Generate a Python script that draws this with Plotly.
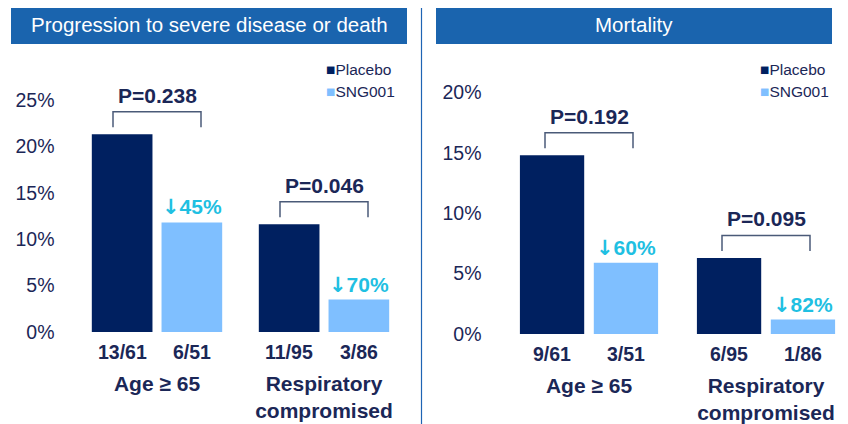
import plotly.graph_objects as go

# ---------------- data ----------------
groups = ["Age ≥ 65", "Respiratory<br>compromised"]
series_names = ["Placebo", "SNG001"]

prog_placebo = [21.3, 11.6]
prog_sng = [11.8, 3.5]
prog_placebo_n = ["13/61", "11/95"]
prog_sng_n = ["6/51", "3/86"]
prog_p = ["P=0.238", "P=0.046"]
prog_red = ["45%", "70%"]

mort_placebo = [14.8, 6.3]
mort_sng = [5.9, 1.2]
mort_placebo_n = ["9/61", "6/95"]
mort_sng_n = ["3/51", "1/86"]
mort_p = ["P=0.192", "P=0.095"]
mort_red = ["60%", "82%"]

prog_ticks = [0, 5, 10, 15, 20, 25]
mort_ticks = [0, 5, 10, 15, 20]

titles = ["Progression to severe disease or death", "Mortality"]

# ---------------- style ----------------
OFF = 8                      # page body margin
W, H = 848 - OFF, 424 - OFF
NAVY = "#002060"
LIGHT = "#7FBFFF"
CYAN = "#1FC0E2"
TEXT = "#1B2757"
HEADER = "#1A64AE"
BRACKET = "#4A5A78"
FONT = "Liberation Sans, Arial, sans-serif"
BARGAP = 0.165
GROUPGAP = 0.13


def px(sx):
    return (sx - OFF) / W


def py(sy):
    return (H - (sy - OFF)) / H


fig = go.Figure()

panels = [
    dict(xa="x", ya="y", xdom=(73.5, 407.5), xr=[-0.5, 1.5], y0px=332, ytop=29.31,
         pl=prog_placebo, sg=prog_sng, pln=prog_placebo_n, sgn=prog_sng_n,
         p=prog_p, red=prog_red, ticks=prog_ticks,
         hdr=(11, 407), title=titles[0], leg=324),
    dict(xa="x2", ya="y2", xdom=(500.5, 836.8), xr=[-0.5, 1.4], y0px=334, ytop=22.70,
         pl=mort_placebo, sg=mort_sng, pln=mort_placebo_n, sgn=mort_sng_n,
         p=mort_p, red=mort_red, ticks=mort_ticks,
         hdr=(436, 832), title=titles[1], leg=758),
]

shapes = []
annotations = []
top_px = 60

for k, P in enumerate(panels):
    suffix = "" if k == 0 else str(k + 1)
    fig.add_trace(go.Bar(x=groups, y=P["pl"], name=series_names[0], marker_color=NAVY,
                         marker_line_width=0, xaxis=P["xa"], yaxis=P["ya"],
                         offsetgroup="a", showlegend=False))
    fig.add_trace(go.Bar(x=groups, y=P["sg"], name=series_names[1], marker_color=LIGHT,
                         marker_line_width=0, xaxis=P["xa"], yaxis=P["ya"],
                         offsetgroup="b", showlegend=False))

    xd = [px(P["xdom"][0]), px(P["xdom"][1])]
    yd = [py(P["y0px"]), py(top_px)]
    fig.update_layout(**{
        "xaxis" + suffix: dict(domain=xd, range=P["xr"], type="category", automargin=False,
                               anchor=P["ya"], showgrid=False, zeroline=False, showline=False,
                               ticks="", tickmode="array", tickvals=groups,
                               ticktext=["<b>" + g + "</b>" for g in groups],
                               tickfont=dict(family=FONT, size=21, color=TEXT),
                               ticklabelstandoff=37),
        "yaxis" + suffix: dict(domain=yd, range=[0, P["ytop"]], anchor=P["xa"], automargin=False,
                               showgrid=False, zeroline=False, showline=False,
                               tickmode="array", tickvals=P["ticks"],
                               ticktext=[f"{v}%" for v in P["ticks"]],
                               tickfont=dict(family=FONT, size=19.5, color=TEXT),
                               ticklabelstandoff=18),
    })

    band_px = (P["xdom"][1] - P["xdom"][0]) / (P["xr"][1] - P["xr"][0])
    slot_px = band_px * (1 - BARGAP) / 2
    off = slot_px / 2

    for i in range(len(groups)):
        top = max(P["pl"][i], P["sg"][i])
        shapes.append(dict(type="path", xref=P["xa"], yref=P["ya"],
                           xsizemode="pixel", ysizemode="pixel",
                           xanchor=i, yanchor=top,
                           path="M -44,7 L -44,22.5 L 44,22.5 L 44,7",
                           line=dict(color=BRACKET, width=1.5)))
        annotations.append(dict(x=i, y=top, xref=P["xa"], yref=P["ya"],
                                text="<b>" + P["p"][i] + "</b>", showarrow=False,
                                yshift=39, yanchor="middle",
                                font=dict(family=FONT, size=21, color=TEXT)))
        annotations.append(dict(x=i, y=P["sg"][i], xref=P["xa"], yref=P["ya"],
                                text="<span style='font-family:DejaVu Sans'><b>↓</b></span><b>"
                                     + P["red"][i] + "</b>",
                                showarrow=False, xshift=off, yshift=15, yanchor="middle",
                                font=dict(family=FONT, size=21, color=CYAN)))
        annotations.append(dict(x=i, y=0, xref=P["xa"], yref=P["ya"],
                                text="<b>" + P["pln"][i] + "</b>", showarrow=False,
                                xshift=-off, yshift=-20, yanchor="middle",
                                font=dict(family=FONT, size=19.5, color=TEXT)))
        annotations.append(dict(x=i, y=0, xref=P["xa"], yref=P["ya"],
                                text="<b>" + P["sgn"][i] + "</b>", showarrow=False,
                                xshift=off, yshift=-20, yanchor="middle",
                                font=dict(family=FONT, size=19.5, color=TEXT)))

    # header
    x0, x1 = P["hdr"]
    shapes.append(dict(type="rect", xref="paper", yref="paper",
                       x0=px(x0), x1=px(x1), y0=py(44), y1=py(4),
                       fillcolor=HEADER, line_width=0, layer="below"))
    annotations.append(dict(x=px((x0 + x1) / 2), y=py(25), xref="paper", yref="paper",
                            text=P["title"], showarrow=False, xanchor="center", yanchor="middle",
                            font=dict(family=FONT, size=20.5, color="white")))

    # legend (manual)
    for j, (nm, col) in enumerate(zip(series_names, [NAVY, LIGHT])):
        annotations.append(dict(x=px(P["leg"]), y=py(69 + 23 * j), xref="paper", yref="paper",
                                text=f"<span style='color:{col}'>■</span>{nm}",
                                showarrow=False, xanchor="left", yanchor="middle",
                                font=dict(family=FONT, size=15.5, color=TEXT)))

# divider
shapes.append(dict(type="line", xref="paper", yref="paper", x0=px(421.5), x1=px(421.5),
                   y0=0, y1=py(4), line=dict(color="#1F64B4", width=1.2)))

fig.update_layout(width=W, height=H, margin=dict(l=0, r=0, t=0, b=0),
                  paper_bgcolor="white", plot_bgcolor="white",
                  barmode="group", bargap=BARGAP, bargroupgap=GROUPGAP,
                  showlegend=False, shapes=shapes, annotations=annotations,
                  font=dict(family=FONT, color=TEXT))

fig.write_html("out.html")
